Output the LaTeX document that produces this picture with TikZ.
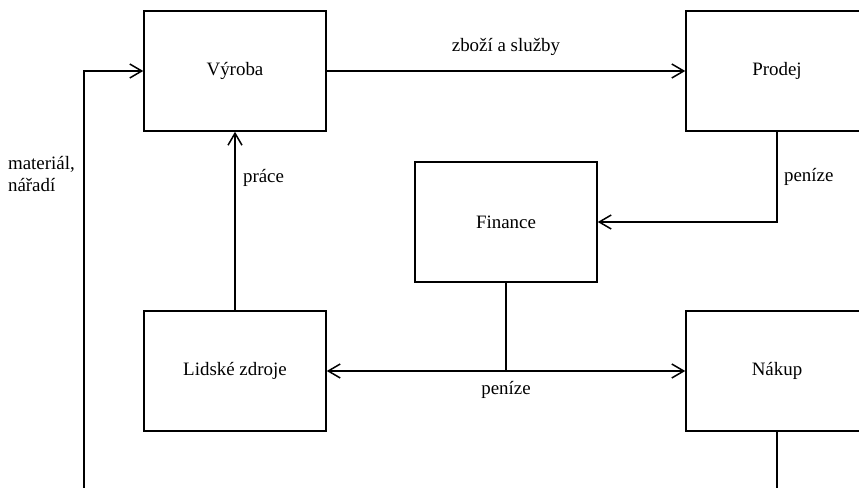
\documentclass[tikz,border=0pt]{standalone}
\usepackage{fontspec}
\setmainfont{Liberation Serif}
\usetikzlibrary{arrows.meta, positioning}

\begin{document}
\begin{tikzpicture}[x=1bp,y=-1bp,
		font=\fontsize{19}{22}\selectfont,
		line width=1.5bp,
		blok/.style={draw, minimum width=182bp, minimum height=120bp, inner sep=0pt},
		sip/.style={-{Straight Barb[length=12bp,width=14bp,line width=1.5bp]}},
		dvojsip/.style={{Straight Barb[length=12bp,width=14bp,line width=1.5bp]}-{Straight Barb[length=12bp,width=14bp,line width=1.5bp]}}]
		\path[use as bounding box, clip] (0,0) rectangle (859,488);
		\node[blok] (vyroba) at (235,71) {Výroba};
		\node[blok] (prodej) at (777,71) {Prodej};
		\node[blok] (finance) at (506,222) {Finance};
		\node[blok] (lidske) at (235,371) {Lidské zdroje};
		\node[blok] (nakup) at (777,371) {Nákup};
		\coordinate (dole) at (84,520);
		\coordinate (rozcesti) at (finance.south |- lidske.east);
		\draw[sip] (vyroba) -- (prodej) node[midway, above=11pt] (zbozi) {zboží a služby};
		\draw[sip] (lidske) -- (vyroba) node[pos=0.74, right=4pt] (prace) {práce};
		\draw[sip] (prodej.south) |- (finance.east) node[pos=0.25, right=3pt] (penize1) {peníze};
		\draw (finance.south) -- (rozcesti);
		\draw[dvojsip] (lidske) -- (nakup);
		\node[below=6pt of rozcesti] (penize2) {peníze};
		\draw[sip] (nakup.south) |- (dole) |- (vyroba.west);
		\node[align=left, anchor=west] (material) at (4,174) {materiál,\\nářadí};
	\end{tikzpicture}
\end{document}
